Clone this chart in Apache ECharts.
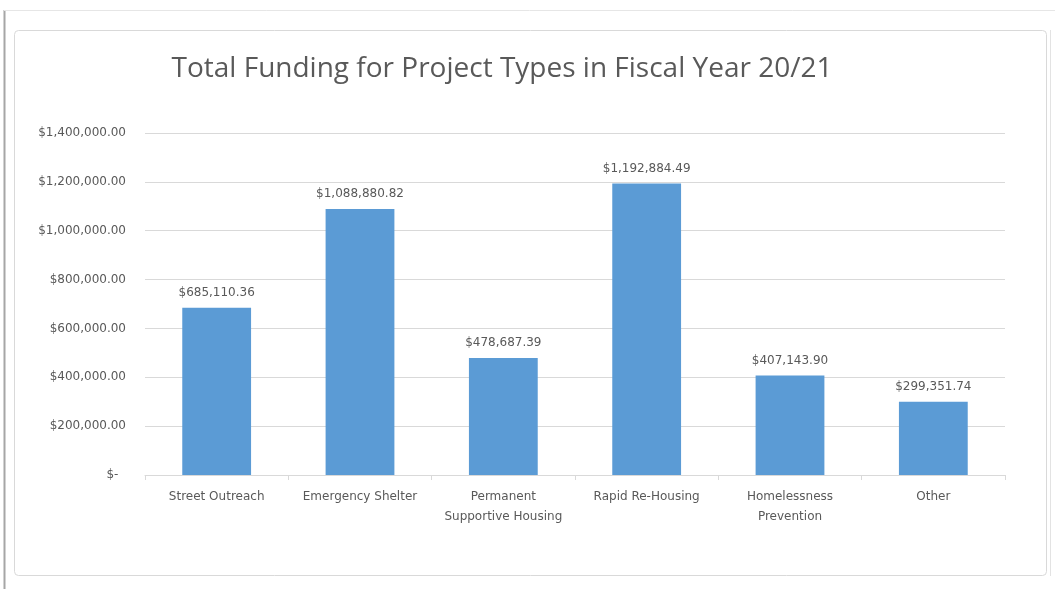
<!DOCTYPE html>
<html>
<head>
<meta charset="utf-8">
<title>Total Funding for Project Types in Fiscal Year 20/21</title>
<script src="https://cdn.jsdelivr.net/npm/echarts@6/dist/echarts.min.js"></script>
<style>
  html, body { margin: 0; padding: 0; background: #ffffff; }
  #chart { width: 1055px; height: 589px; }
</style>
</head>
<body>
<div id="chart"></div>
<script>
// Project types and their total funding (USD)
const categories = [
  'Street Outreach',
  'Emergency Shelter',
  'Permanent\nSupportive Housing',
  'Rapid Re-Housing',
  'Homelessness\nPrevention',
  'Other'
];
const funding = [685110.36, 1088880.82, 478687.39, 1192884.49, 407143.90, 299351.74];

const titleText = 'Total Funding for Project Types in Fiscal Year 20/21';
const axisMax = 1400000;
const axisStep = 200000;

const textGray = '#595959';
const gridGray = '#d9d9d9';
const barBlue = '#5b9bd5';
const labelFont = '"DejaVu Sans", sans-serif';

function money(v) {
  return '$' + Number(v).toLocaleString('en-US', { minimumFractionDigits: 2, maximumFractionDigits: 2 });
}

const chart = echarts.init(document.getElementById('chart'), null, { renderer: 'canvas' });

chart.setOption({
  backgroundColor: '#ffffff',
  animation: false,
  title: {
    text: titleText,
    left: 497,
    top: 50,
    textAlign: 'center',
    textStyle: {
      fontFamily: '"Liberation Sans Narrow", "Open Sans", sans-serif',
      fontSize: 28,
      fontWeight: 'normal',
      color: textGray
    }
  },
  grid: { left: 145, right: 50, top: 133, bottom: 114, containLabel: false },
  xAxis: {
    type: 'category',
    data: categories,
    boundaryGap: true,
    axisLine: { lineStyle: { color: gridGray, width: 1 } },
    axisTick: { show: true, alignWithLabel: false, length: 5, lineStyle: { color: gridGray } },
    axisLabel: {
      color: textGray,
      fontFamily: labelFont,
      fontSize: 12,
      margin: 12,
      lineHeight: 20,
      interval: 0
    }
  },
  yAxis: {
    type: 'value',
    min: 0,
    max: axisMax,
    interval: axisStep,
    axisLine: { show: false },
    axisTick: { show: false },
    splitLine: { lineStyle: { color: gridGray, width: 1 } },
    axisLabel: {
      color: textGray,
      fontFamily: labelFont,
      fontSize: 12,
      margin: 19,
      formatter: v => (v === 0 ? '$-' + '\u2007' : money(v))
    }
  },
  series: [{
    type: 'bar',
    data: funding,
    barWidth: '48%',
    itemStyle: { color: barBlue },
    label: {
      show: true,
      position: 'top',
      distance: 9,
      color: textGray,
      fontFamily: labelFont,
      fontSize: 12,
      formatter: p => money(p.value)
    }
  }],
  graphic: [
    // outer sheet edges
    { type: 'line', shape: { x1: 4.5, y1: 10, x2: 4.5, y2: 589 }, style: { stroke: '#a6a6a6', lineWidth: 2 }, z: 10 },
    { type: 'line', shape: { x1: 4, y1: 10.5, x2: 1055, y2: 10.5 }, style: { stroke: '#e6e6e6', lineWidth: 1 }, z: 10 },
    // chart area frame
    { type: 'rect', shape: { x: 14.5, y: 30.5, width: 1032, height: 545, r: 4 },
      style: { fill: 'none', stroke: '#d9d9d9', lineWidth: 1 }, z: 10 },
    { type: 'line', shape: { x1: 1050.5, y1: 30, x2: 1050.5, y2: 576 }, style: { stroke: '#e3e3e3', lineWidth: 1 }, z: 10 }
  ]
});
</script>
</body>
</html>
